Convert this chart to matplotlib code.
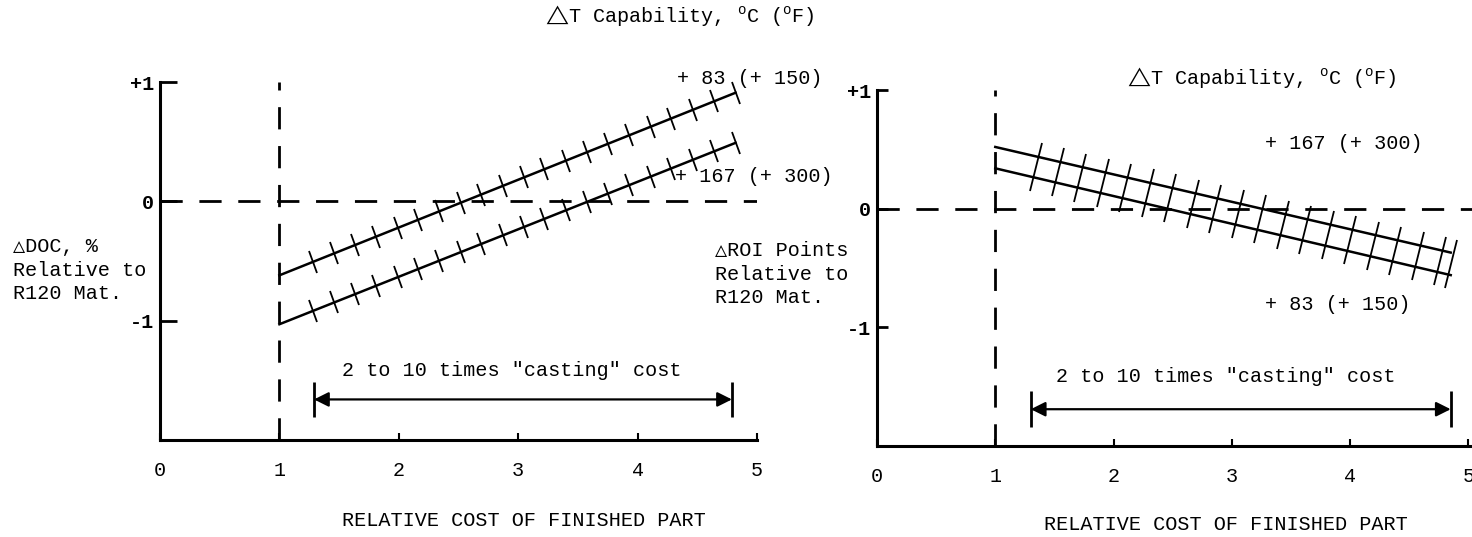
import numpy as np
import matplotlib
matplotlib.use('Agg')
import matplotlib.pyplot as plt
from matplotlib.markers import MarkerStyle
from matplotlib.transforms import Affine2D

plt.rcParams['font.family'] = ['Liberation Mono', 'DejaVu Sans Mono', 'DejaVu Sans']
plt.rcParams['mathtext.fontset'] = 'custom'
plt.rcParams['mathtext.rm'] = 'Liberation Mono'
plt.rcParams['mathtext.fallback'] = 'stix'
plt.rcParams['font.size'] = 14.5

# ---- data ----
cost_ticks = [0, 1, 2, 3, 4, 5]
cost_labels = ['0', '1', '2', '3', '4', '5']
delta_ticks = [1, 0, -1]
delta_labels = ['+1', '0', '-1']

# left: delta DOC %, lines go from cost 1 to the end of the band
doc_x = [1.0, 4.82]
doc_83 = [-0.62, 0.91]     # +83 C (+150 F)
doc_167 = [-1.03, 0.49]    # +167 C (+300 F)
doc_hatch_x = [1.28, 1.46, 1.63, 1.81, 1.99, 2.16, 2.34, 2.52, 2.69, 2.87, 3.05,
               3.22, 3.40, 3.58, 3.75, 3.93, 4.11, 4.28, 4.46, 4.64, 4.82]
doc_span = [1.29, 4.79]    # 2 to 10 times casting cost

# right: delta ROI points
roi_x = [1.0, 4.85]
roi_167 = [0.52, -0.37]
roi_83 = [0.34, -0.56]
roi_hatch_x = [1.34, 1.53, 1.72, 1.91, 2.10, 2.29, 2.48, 2.67, 2.86, 3.05,
               3.24, 3.43, 3.62, 3.81, 4.00, 4.19, 4.38, 4.57, 4.76, 4.85]
roi_span = [1.30, 4.85]

W, H = 1472, 537


def px(x, y):
    return x / W, 1 - y / H


def hatch(ax, xs, line_x, line_y, size):
    p = ax.transData.transform(np.column_stack([line_x, line_y]))
    ang = np.degrees(np.arctan2(p[1, 1] - p[0, 1], p[1, 0] - p[0, 0]))
    m = MarkerStyle('|', transform=Affine2D().rotate_deg(ang))
    ys = np.interp(xs, line_x, line_y)
    ax.plot(xs, ys, ls='none', marker=m, ms=size, mec='black', mew=1.3,
            clip_on=False)


def setup(ax, xmax, ylen, pad_x):
    ax.set_xlim(0, xmax)
    ax.set_ylim(-2, 1)
    for s in ['top', 'right']:
        ax.spines[s].set_visible(False)
    for s in ['left', 'bottom']:
        ax.spines[s].set_linewidth(2.2)
    ax.set_xticks(cost_ticks)
    ax.set_xticklabels(cost_labels)
    ax.set_yticks(delta_ticks)
    ax.set_yticklabels(delta_labels, fontweight='bold')
    ax.tick_params(axis='y', direction='in', length=ylen, width=2, pad=4)
    ax.tick_params(axis='x', direction='in', length=5, width=1.5, pad=pad_x)
    ax.plot([1, 1], [-2, 1], color='black', lw=2, ls=(0, (8, 6)), clip_on=False)


def span_arrow(ax, span, y):
    ax.annotate('', xy=(span[1], y), xytext=(span[0], y),
                arrowprops=dict(arrowstyle='<|-|>', color='black', lw=1.6,
                                mutation_scale=22, shrinkA=0, shrinkB=0))
    ax.vlines(span, y - 0.15, y + 0.15, color='black', lw=2)


fig = plt.figure(figsize=(W / 100, H / 100), dpi=100)

tri = '\u25B3'
title = r'$\bigtriangleup$T Capability, $^{\rm o}$C ($^{\rm o}$F)'

# ---------------- left panel ----------------
ax1 = fig.add_axes([160 / W, 1 - 440 / H, 597 / W, 358 / H])
setup(ax1, 5, 12, 15)
ax1.plot([0, 5], [0, 0], color='black', lw=2, ls=(0, (8, 6)))
ax1.plot(doc_x, doc_83, color='black', lw=1.8, clip_on=False)
ax1.plot(doc_x, doc_167, color='black', lw=1.8, clip_on=False)
hatch(ax1, doc_hatch_x, doc_x, doc_83, 17)
hatch(ax1, doc_hatch_x, doc_x, doc_167, 17)
span_arrow(ax1, doc_span, -1.66)

fig.text(*px(680, 16), title, ha='center', va='center')
fig.text(*px(677, 79), '+ 83 (+ 150)', ha='left', va='center')
fig.text(*px(675, 177), '+ 167 (+ 300)', ha='left', va='center')
fig.text(*px(13, 270), tri + 'DOC, %\nRelative to\nR120 Mat.', ha='left',
         va='center', linespacing=1.3)
fig.text(*px(512, 371), '2 to 10 times "casting" cost', ha='center', va='center')
fig.text(*px(524, 520), 'RELATIVE COST OF FINISHED PART', ha='center', va='center')

# ---------------- right panel ----------------
ax2 = fig.add_axes([877 / W, 1 - 446 / H, 595 / W, 356 / H])
setup(ax2, 5.03, 8, 15)
ax2.plot([0, 5.03], [0, 0], color='black', lw=2, ls=(0, (8, 6)))
ax2.plot(roi_x, roi_167, color='black', lw=1.8, clip_on=False)
ax2.plot(roi_x, roi_83, color='black', lw=1.8, clip_on=False)
roi_mid = [(a + b) / 2 for a, b in zip(roi_167, roi_83)]
hatch(ax2, roi_hatch_x, roi_x, roi_mid, 35)
span_arrow(ax2, roi_span, -1.69)

fig.text(*px(1262, 78), title, ha='center', va='center')
fig.text(*px(1265, 144), '+ 167 (+ 300)', ha='left', va='center')
fig.text(*px(1265, 304), '+ 83 (+ 150)', ha='left', va='center')
fig.text(*px(715, 274), tri + 'ROI Points\nRelative to\nR120 Mat.', ha='left',
         va='center', linespacing=1.3)
fig.text(*px(1226, 377), '2 to 10 times "casting" cost', ha='center', va='center')
fig.text(*px(1226, 525), 'RELATIVE COST OF FINISHED PART', ha='center', va='center')

fig.savefig('out.png', dpi=100)
